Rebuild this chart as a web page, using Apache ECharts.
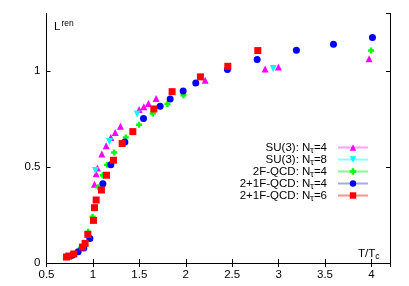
<!DOCTYPE html>
<html>
<head>
<meta charset="utf-8">
<script src="https://cdn.jsdelivr.net/npm/echarts@6/dist/echarts.min.js"></script>
<style>html,body{margin:0;padding:0;background:#fff}#c{width:409px;height:286px}</style>
</head>
<body>
<div id="c"></div>
<script>
// SU(3): N_tau=4
var su3nt4X = [1.017,1.035,1.049,1.096,1.143,1.193,1.240,1.297,1.498,1.548,1.598,1.681,2.209,2.855,2.998,3.975];
var su3nt4Y = [0.410,0.465,0.495,0.568,0.611,0.653,0.679,0.712,0.799,0.814,0.830,0.856,0.951,1.010,1.021,1.063];
// SU(3): N_tau=8
var su3nt8X = [1.028,1.178,1.476,2.941];
var su3nt8Y = [0.481,0.632,0.776,1.012];
// 2F-QCD: N_tau=4
var qcd2X = [0.760,0.870,0.949,0.997,1.058,1.106,1.152,1.228,1.354,1.497,1.645,1.803,1.975,3.996];
var qcd2Y = [0.035,0.080,0.163,0.241,0.394,0.457,0.511,0.575,0.654,0.720,0.778,0.828,0.873,1.106];
// 2+1F-QCD: N_tau=4
var qcd21nt4X = [0.776,0.841,0.902,0.967,1.107,1.193,1.344,1.545,1.724,1.832,1.972,2.108,2.449,2.769,3.192,3.591,4.011];
var qcd21nt4Y = [0.040,0.059,0.078,0.127,0.413,0.512,0.630,0.752,0.816,0.854,0.896,0.937,1.007,1.059,1.108,1.139,1.174];
// 2+1F-QCD: N_tau=6
var qcd21nt6X = [0.715,0.740,0.794,0.888,0.916,0.945,1.006,1.017,1.035,1.092,1.146,1.222,1.315,1.430,1.656,1.853,2.158,2.453,2.776];
var qcd21nt6Y = [0.031,0.036,0.047,0.083,0.102,0.149,0.222,0.288,0.328,0.380,0.457,0.535,0.622,0.684,0.802,0.892,0.969,1.024,1.106];

var seriesNames = ['SU(3): N_τ=4','SU(3): N_τ=8','2F-QCD: N_τ=4','2+1F-QCD: N_τ=4','2+1F-QCD: N_τ=6'];
var xTicks = [0.5,1,1.5,2,2.5,3,3.5,4];
var yTicks = [0,0.5,1];

function pairs(xs, ys){ return xs.map(function(x,i){return [x, ys[i]];}); }

var FONT = 'Liberation Sans';
var chart = echarts.init(document.getElementById('c'), null, {renderer:'canvas'});

var specs = [
  {x:su3nt4X, y:su3nt4Y, color:'#ff00ff', pale:'#ffa0ff', symbol:'triangle', size:7, rot:0},
  {x:su3nt8X, y:su3nt8Y, color:'#00ffff', pale:'#90ffff', symbol:'triangle', size:7, rot:180},
  {x:qcd2X, y:qcd2Y, color:'#00ff00', pale:'#80ff80', symbol:'path://M3,0H7V3H10V7H7V10H3V7H0V3H3Z', size:6, rot:0},
  {x:qcd21nt4X, y:qcd21nt4Y, color:'#0000ff', pale:'#a0a8ff', symbol:'circle', size:7, rot:0},
  {x:qcd21nt6X, y:qcd21nt6Y, color:'#ff0000', pale:'#ff9090', symbol:'rect', size:7, rot:0}
];

var series = specs.map(function(s, i){
  return {
    type:'line', name: seriesNames[i], data: pairs(s.x, s.y),
    symbol: s.symbol, symbolSize: s.size, symbolRotate: s.rot,
    showSymbol:true, showAllSymbol:true,
    lineStyle:{opacity:0}, itemStyle:{color:s.color},
    silent:true, animation:false, z: 2+i
  };
});

var axisCommon = {
  type:'value', splitLine:{show:false},
  axisLine:{show:true, lineStyle:{color:'#000', width:1}},
  axisTick:{show:true, inside:true, length:4, lineStyle:{color:'#000'}}
};

var option = {
  animation:false,
  grid:{left:46.5, right:19, top:13.3, bottom:23},
  xAxis:[
    Object.assign({}, axisCommon, {position:'bottom', min:0.5, max:4.2, interval:0.5,
      axisLabel:{show:true, showMaxLabel:false, margin:6, fontSize:11.5, fontFamily:FONT, color:'#000',
        formatter:function(v){ return xTicks.indexOf(+v.toFixed(2))>=0 ? String(+v.toFixed(2)) : ''; }}}),
    Object.assign({}, axisCommon, {position:'top', min:0.5, max:4.2, interval:0.5, axisLabel:{show:false}})
  ],
  yAxis:[
    Object.assign({}, axisCommon, {position:'left', min:0, max:1.3, interval:0.5,
      axisLabel:{show:true, showMaxLabel:false, margin:6, fontSize:11.5, fontFamily:FONT, color:'#000',
        formatter:function(v){ return yTicks.indexOf(+v.toFixed(2))>=0 ? String(+v.toFixed(2)) : ''; }}}),
    Object.assign({}, axisCommon, {position:'right', min:0, max:1.3, interval:0.5, axisLabel:{show:false}})
  ],
  legend:{
    orient:'vertical', right:35, top:135, align:'right',
    itemWidth:30, itemHeight:8, itemGap:-3,
    selectedMode:false,
    data: specs.map(function(s,i){ return {name:seriesNames[i], lineStyle:{color:s.pale, width:2, opacity:1}}; }),
    formatter:function(n){ return n.replace('N_τ', 'N{s|τ}'); },
    textStyle:{fontSize:11.5, fontFamily:FONT, color:'#000', lineHeight:12, padding:[0,6,0,0],
      rich:{s:{fontSize:9, fontFamily:FONT, color:'#000', padding:[6,0,0,0], lineHeight:12}}}
  },
  graphic:[
    {type:'text', left:54, top:19, style:{text:'L{p|ren}', font:'11.5px '+FONT, fill:'#000',
      rich:{p:{fontSize:8.5, fontFamily:FONT, fill:'#000', padding:[0,0,6,1]}}}},
    {type:'text', left:358, top:248, style:{text:'T/T{b|c}', font:'11.5px '+FONT, fill:'#000',
      rich:{b:{fontSize:8.5, fontFamily:FONT, fill:'#000', padding:[6,0,0,0]}}}}
  ],
  series: series
};
chart.setOption(option);
</script>
</body>
</html>
